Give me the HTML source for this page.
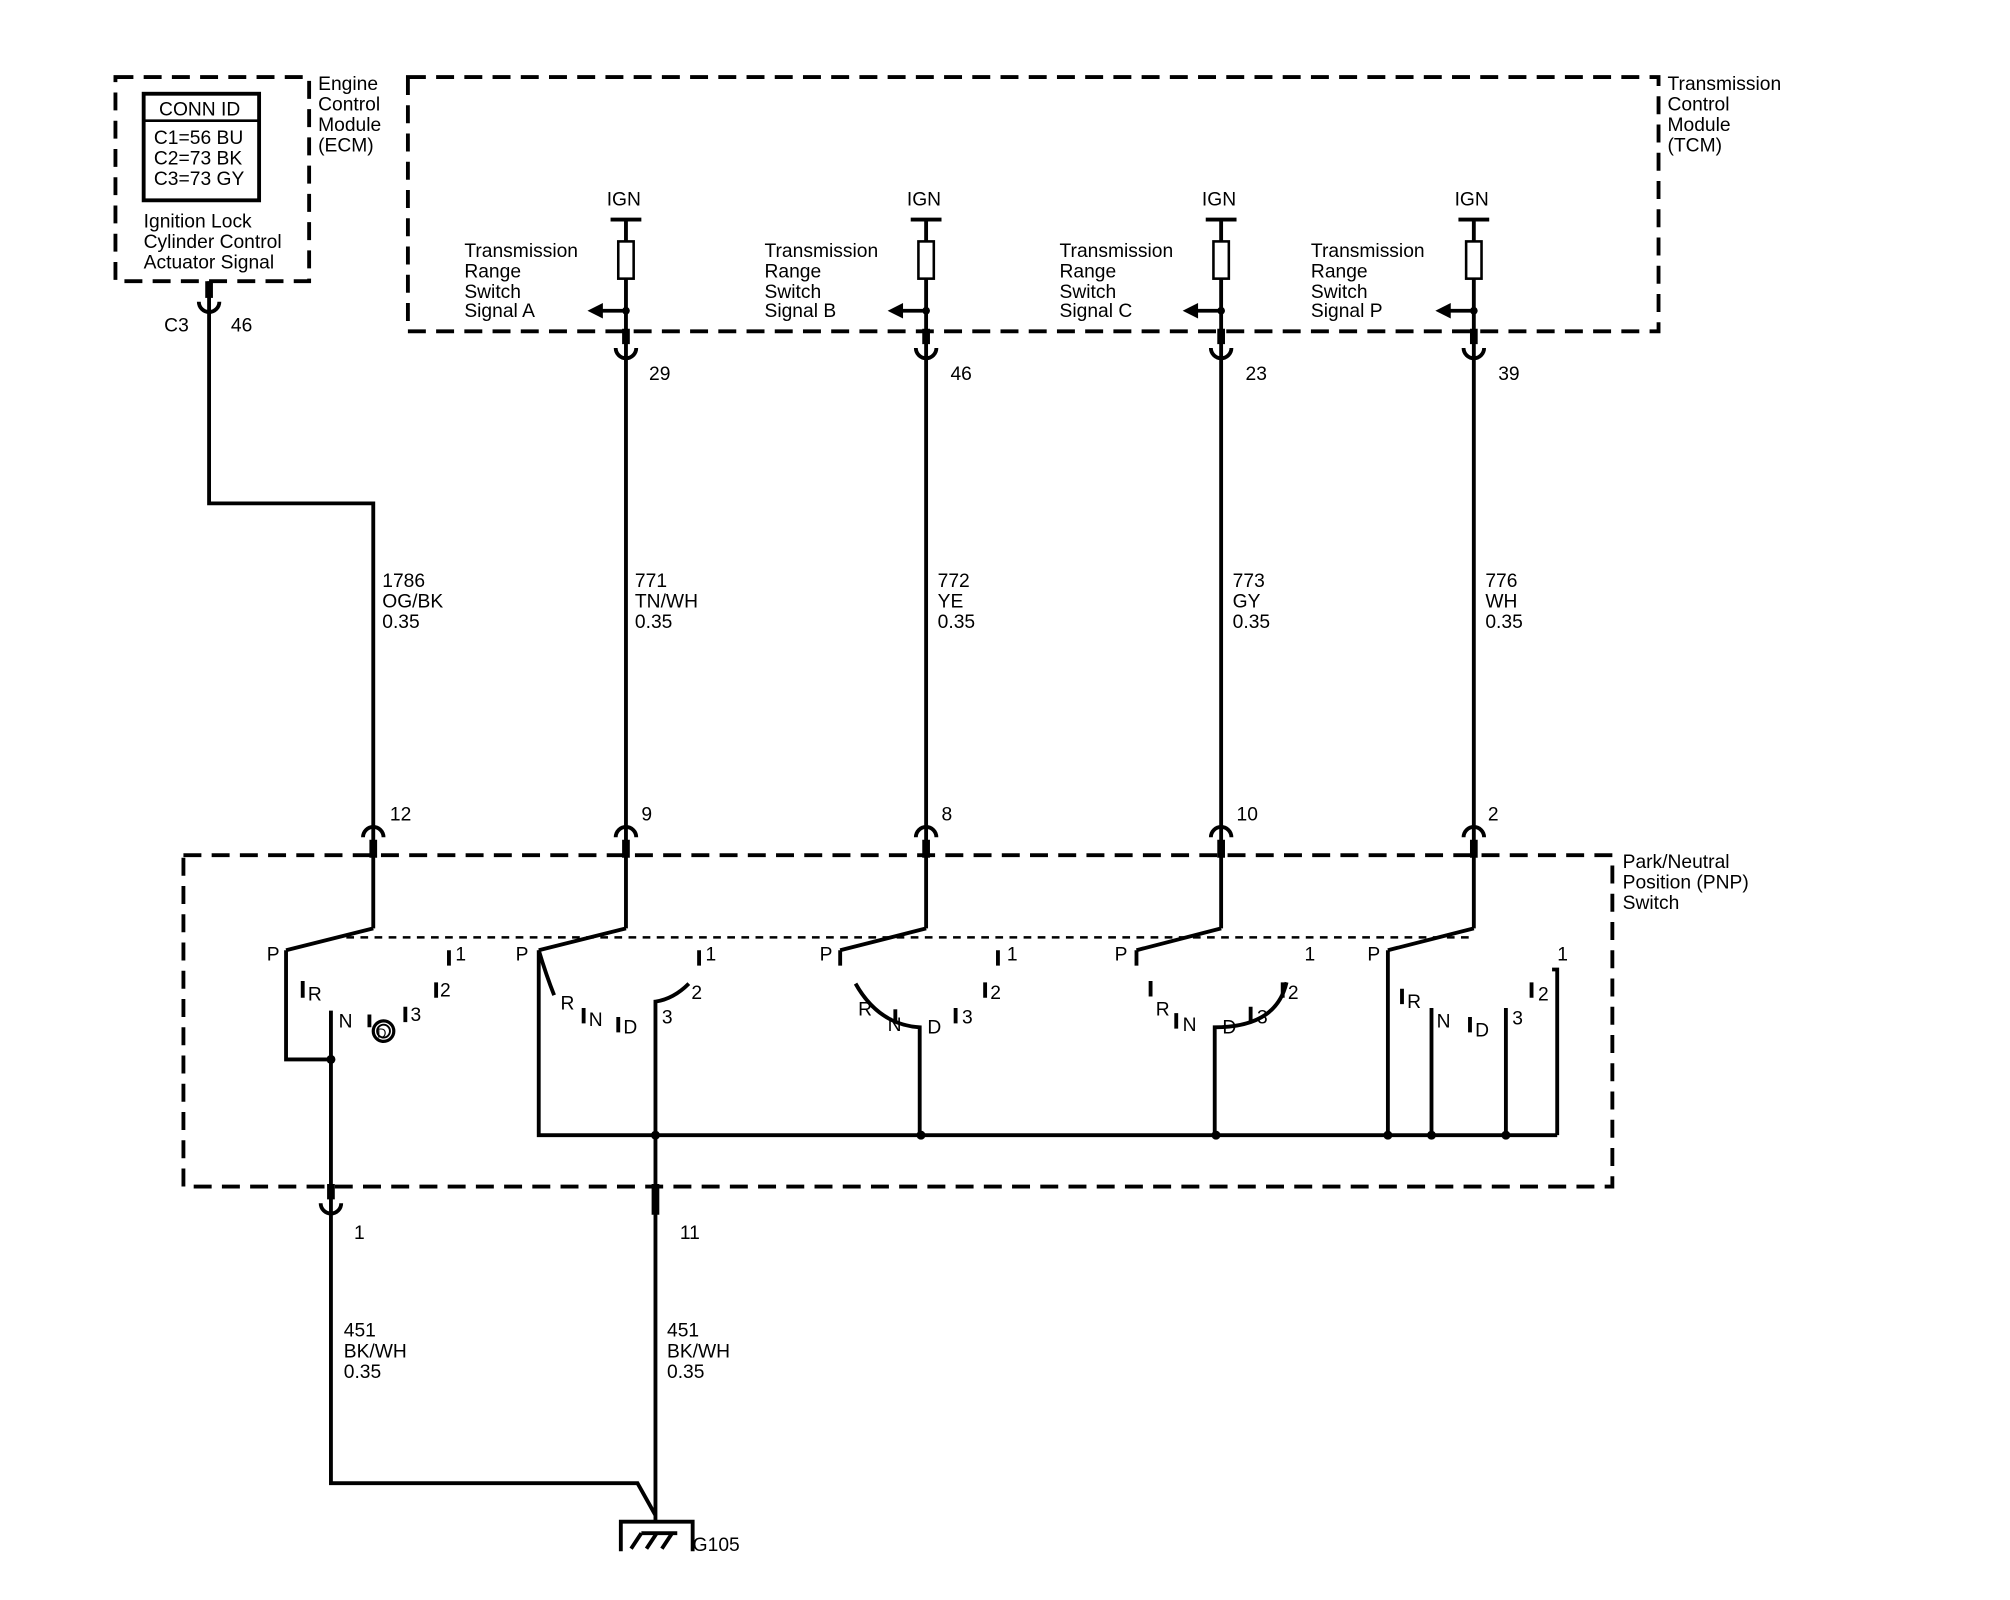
<!DOCTYPE html>
<html><head><meta charset="utf-8"><style>
html,body{margin:0;padding:0;background:#fff}
svg{display:block}
text{font-family:"Liberation Sans",sans-serif;font-size:15px;fill:#000}
</style></head><body>
<svg width="2010" height="1600" viewBox="0 0 1567 1246" preserveAspectRatio="none" xmlns="http://www.w3.org/2000/svg">
<g fill="none" stroke="#000">
<rect x="90" y="60" width="151" height="159" stroke-width="3" stroke-dasharray="14,8"/>
<rect x="318" y="60" width="975" height="198" stroke-width="3" stroke-dasharray="14,8"/>
<rect x="143" y="666" width="1114" height="258" stroke-width="3" stroke-dasharray="14,8"/>
<rect x="112" y="73" width="90" height="83" stroke-width="3"/>
<line x1="112" y1="94" x2="202" y2="94" stroke-width="2"/>
<path d="M163 219 V392 H291 V723" stroke-width="3"/>
<line x1="163" y1="219" x2="163" y2="232" stroke-width="6"/>
<path d="M155 235 A8 8 0 0 0 171 235" stroke-width="3"/>
<g stroke-width="3">
<path d="M488 171 V723"/><path d="M722 171 V723"/><path d="M952 171 V723"/><path d="M1149 171 V723"/>
<path d="M476 171 H500 M710 171 H734 M940 171 H964 M1137 171 H1161"/>
<path d="M488 242 H466 M722 242 H700 M952 242 H930 M1149 242 H1127"/>
</g>
<g stroke-width="2" fill="#fff">
<rect x="482" y="188" width="12" height="29"/><rect x="716" y="188" width="12" height="29"/>
<rect x="946" y="188" width="12" height="29"/><rect x="1143" y="188" width="12" height="29"/>
</g>
<g stroke-width="6">
<path d="M488 256 V268 M722 256 V268 M952 256 V268 M1149 256 V268"/>
<path d="M291 654 V668 M488 654 V668 M722 654 V668 M952 654 V668 M1149 654 V668"/>
<path d="M258 922 V934 M511 922 V946"/>
</g>
<g stroke-width="3">
<path d="M480 271 A8 8 0 0 0 496 271 M714 271 A8 8 0 0 0 730 271 M944 271 A8 8 0 0 0 960 271 M1141 271 A8 8 0 0 0 1157 271"/>
<path d="M283 652 A8 8 0 0 1 299 652 M480 652 A8 8 0 0 1 496 652 M714 652 A8 8 0 0 1 730 652 M944 652 A8 8 0 0 1 960 652 M1141 652 A8 8 0 0 1 1157 652"/>
<path d="M250 937 A8 8 0 0 0 266 937"/>
</g>
<line x1="270" y1="730" x2="1150" y2="730" stroke-width="2" stroke-dasharray="6,5"/>
<g stroke-width="3">
<path d="M223 740 L291 723"/><path d="M420 740 L488 723"/><path d="M655 740 L722 723"/><path d="M886 740 L952 723"/><path d="M1082 740 L1149 723"/>
<path d="M223 740 V825 H258"/><path d="M258 787 V1155 H497 L511 1180"/>
<path d="M420 740 V884 H1214"/><path d="M420 740 Q426 760 432 775"/>
<path d="M511 1185 V780 Q525 778 537 766"/>
<path d="M655 740 V752"/><path d="M667 766 Q685 798 717 800 V884"/>
<path d="M886 740 V752"/><path d="M947 884 V800 Q995 800 1003 765"/>
<path d="M1082 740 V884"/><path d="M1116 785 V884"/><path d="M1174 785 V884"/><path d="M1214 884 V755 H1210"/>
<path d="M236 764 V777 M288 790 V800 M316 784 V796 M340 765 V777 M350 740 V752"/>
<path d="M455 785 V797 M482 792 V804 M545 740 V752 M778 740 V752 M768 765 V777 M745 785 V797"/>
<path d="M897 764 V776 M917 789 V801 M975 784 V796 M1000 765 V777 M1093 770 V782 M1146 792 V804 M1194 765 V777"/>
<path d="M698 786 V797"/>
</g>
<circle cx="299" cy="803" r="8" stroke-width="2.5"/>
<circle cx="299" cy="803" r="5" stroke-width="1.5"/>
<g stroke-width="3"><path d="M484 1208 V1185 H540 V1208"/><path d="M492 1206 L500 1194 M504 1206 L512 1194 M516 1206 L524 1194"/><path d="M500 1194 H528"/></g>
</g>
<g fill="#000">
<path d="M458 242 L470 236 L470 248Z"/><path d="M692 242 L704 236 L704 248Z"/><path d="M922 242 L934 236 L934 248Z"/><path d="M1119 242 L1131 236 L1131 248Z"/>
<circle cx="488" cy="242" r="3"/><circle cx="722" cy="242" r="3"/><circle cx="952" cy="242" r="3"/><circle cx="1149" cy="242" r="3"/>
<circle cx="258" cy="825" r="3.5"/><circle cx="511" cy="884" r="3.5"/><circle cx="718" cy="884" r="3.5"/><circle cx="948" cy="884" r="3.5"/><circle cx="1082" cy="884" r="3.5"/><circle cx="1116" cy="884" r="3.5"/><circle cx="1174" cy="884" r="3.5"/>
</g>
<g>
<text x="124" y="90">CONN ID</text>
<text x="120" y="112">C1=56 BU</text><text x="120" y="128">C2=73 BK</text><text x="120" y="144">C3=73 GY</text>
<text x="112" y="177">Ignition Lock</text><text x="112" y="193">Cylinder Control</text><text x="112" y="209">Actuator Signal</text>
<text x="248" y="70">Engine</text><text x="248" y="86">Control</text><text x="248" y="102">Module</text><text x="248" y="118">(ECM)</text>
<text x="1300" y="70">Transmission</text><text x="1300" y="86">Control</text><text x="1300" y="102">Module</text><text x="1300" y="118">(TCM)</text>
<text x="128" y="258">C3</text><text x="180" y="258">46</text>
<text x="473" y="160">IGN</text><text x="707" y="160">IGN</text><text x="937" y="160">IGN</text><text x="1134" y="160">IGN</text>
<text x="362" y="200">Transmission</text><text x="362" y="216">Range</text><text x="362" y="232">Switch</text><text x="362" y="247">Signal A</text>
<text x="596" y="200">Transmission</text><text x="596" y="216">Range</text><text x="596" y="232">Switch</text><text x="596" y="247">Signal B</text>
<text x="826" y="200">Transmission</text><text x="826" y="216">Range</text><text x="826" y="232">Switch</text><text x="826" y="247">Signal C</text>
<text x="1022" y="200">Transmission</text><text x="1022" y="216">Range</text><text x="1022" y="232">Switch</text><text x="1022" y="247">Signal P</text>
<text x="506" y="296">29</text><text x="741" y="296">46</text><text x="971" y="296">23</text><text x="1168" y="296">39</text>
<text x="298" y="457">1786</text><text x="298" y="473">OG/BK</text><text x="298" y="489">0.35</text>
<text x="495" y="457">771</text><text x="495" y="473">TN/WH</text><text x="495" y="489">0.35</text>
<text x="731" y="457">772</text><text x="731" y="473">YE</text><text x="731" y="489">0.35</text>
<text x="961" y="457">773</text><text x="961" y="473">GY</text><text x="961" y="489">0.35</text>
<text x="1158" y="457">776</text><text x="1158" y="473">WH</text><text x="1158" y="489">0.35</text>
<text x="304" y="639">12</text><text x="500" y="639">9</text><text x="734" y="639">8</text><text x="964" y="639">10</text><text x="1160" y="639">2</text>
<text x="1265" y="676">Park/Neutral</text><text x="1265" y="692">Position (PNP)</text><text x="1265" y="708">Switch</text>
<text x="208" y="748">P</text><text x="402" y="748">P</text><text x="639" y="748">P</text><text x="869" y="748">P</text><text x="1066" y="748">P</text>
<text x="240" y="779">R</text><text x="264" y="800">N</text><text x="320" y="795">3</text><text x="343" y="776">2</text><text x="355" y="748">1</text>
<text x="437" y="786">R</text><text x="459" y="799">N</text><text x="486" y="805">D</text><text x="516" y="797">3</text><text x="539" y="778">2</text><text x="550" y="748">1</text>
<text x="669" y="791">R</text><text x="692" y="803">N</text><text x="723" y="805">D</text><text x="750" y="797">3</text><text x="772" y="778">2</text><text x="785" y="748">1</text>
<text x="901" y="791">R</text><text x="922" y="803">N</text><text x="953" y="805">D</text><text x="980" y="797">3</text><text x="1004" y="778">2</text><text x="1017" y="748">1</text>
<text x="1097" y="785">R</text><text x="1120" y="800">N</text><text x="1150" y="807">D</text><text x="1179" y="798">3</text><text x="1199" y="779">2</text><text x="1214" y="748">1</text>
<text x="294" y="808" style="font-size:10px">D</text>
<text x="276" y="965">1</text><text x="530" y="965">11</text>
<text x="268" y="1041">451</text><text x="268" y="1057">BK/WH</text><text x="268" y="1073">0.35</text>
<text x="520" y="1041">451</text><text x="520" y="1057">BK/WH</text><text x="520" y="1073">0.35</text>
<text x="540" y="1208">G105</text>
</g>
</svg>
</body></html>
